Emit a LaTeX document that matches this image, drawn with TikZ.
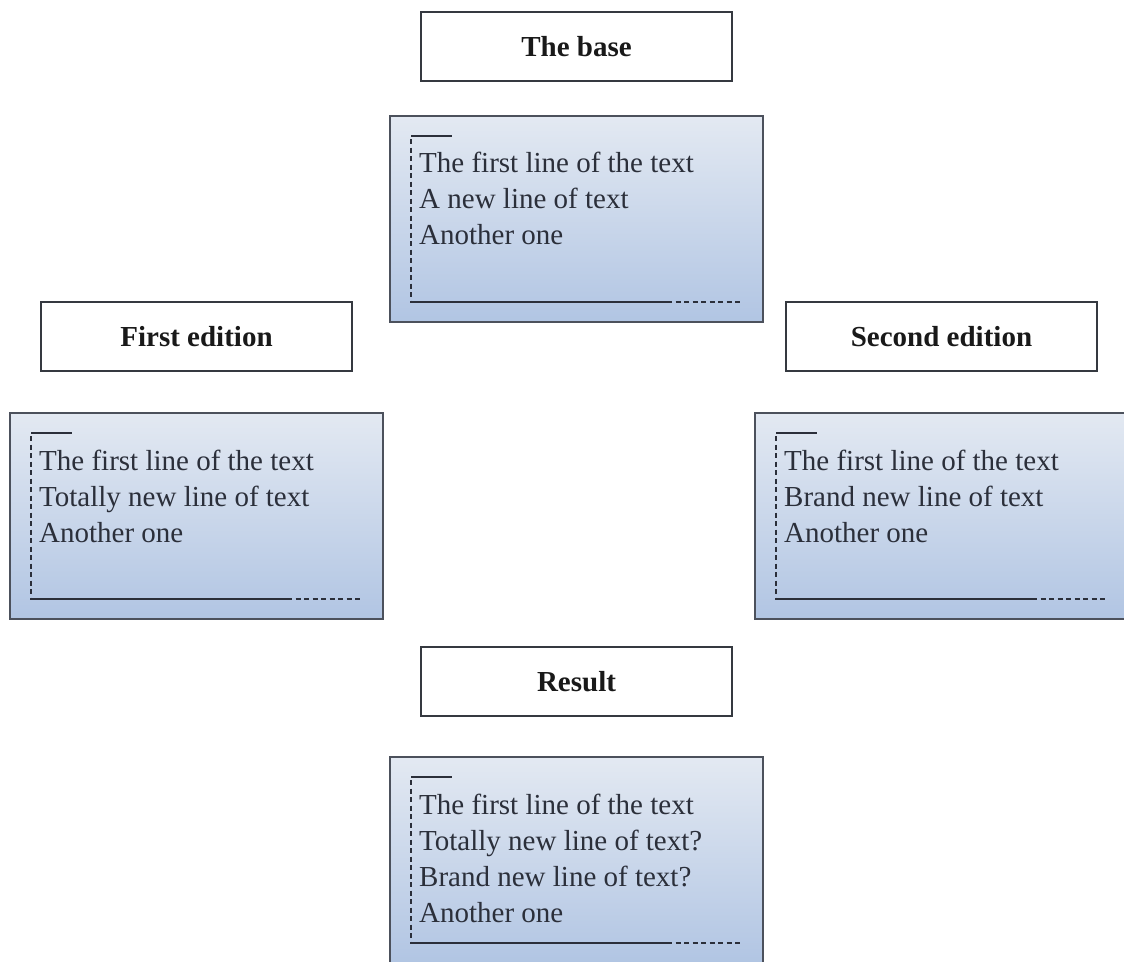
\documentclass[tikz,border=0pt]{standalone}
\usepackage{fontspec}
\setmainfont{Liberation Serif}
\usetikzlibrary{positioning,calc}
\definecolor{ink}{HTML}{2B2F3A}
\definecolor{frame}{HTML}{4C515C}
\definecolor{paper}{HTML}{E3E9F2}
\definecolor{steel}{HTML}{B1C5E3}

\begin{document}
\begin{tikzpicture}[x=1pt,y=-1pt,font=\fontsize{29}{36}\selectfont,
   tag/.style={draw=frame!70!black,line width=2pt,fill=white,text=black!90,
     minimum width=311pt,minimum height=69pt,inner sep=0pt,outer sep=0pt,
     font=\fontsize{29}{36}\selectfont\bfseries},
   page/.style={draw=frame,line width=2.5pt,top color=paper,bottom color=steel,
     minimum width=373pt,minimum height=206pt,inner sep=0pt,outer sep=0pt},
   body/.style={anchor=north west,align=left,inner sep=0pt,text=ink},
   rule/.style={draw=ink,line width=2pt},
   gap/.style={draw=ink,line width=1.6pt,dash pattern=on 5pt off 3.5pt}]
 \useasboundingbox (0,0) rectangle (1124,961);
 % the four copies of the document
 \node[page] (base)   at (576.5,219) {};
 \node[page] (first)  at (196.5,516) {};
 \node[page] (second) at (941.5,516) {};
 \node[page] (result) at (576.5,860) {};
 % captions
 \node[tag,above=35pt of base]   (basetag)   {The base};
 \node[tag,above=42pt of first]  (firsttag)  {First edition};
 \node[tag,above=42pt of second] (secondtag) {Second edition};
 \node[tag,above=41pt of result] (resulttag) {Result};
 % text in each copy
 \node[body] (basetext)   at ($(base.north west)+(29,36)$)
   {The first line of the text\\A new line of text\\Another one};
 \node[body] (firsttext)  at ($(first.north west)+(29,37)$)
   {The first line of the text\\Totally new line of text\\Another one};
 \node[body] (secondtext) at ($(second.north west)+(29,37)$)
   {The first line of the text\\Brand new line of text\\Another one};
 \node[body] (resulttext) at ($(result.north west)+(29,37)$)
   {The first line of the text\\Totally new line of text?\\Brand new line of text?\\Another one};
 % page marks
 \foreach \d in {base,first,second,result} {
   \draw[rule] ($(\d.north west)+(21,20)$) -- ++(41,0);
   \draw[gap] ($(\d.north west)+(21,23)$) -- ($(\d.north west)+(21,185)$);
   \draw[rule] ($(\d.north west)+(20,186)$) -- ++(257,0) coordinate (\d cut);
   \draw[gap] (\d cut) -- ++(76,0);
 }
\end{tikzpicture}
\end{document}
